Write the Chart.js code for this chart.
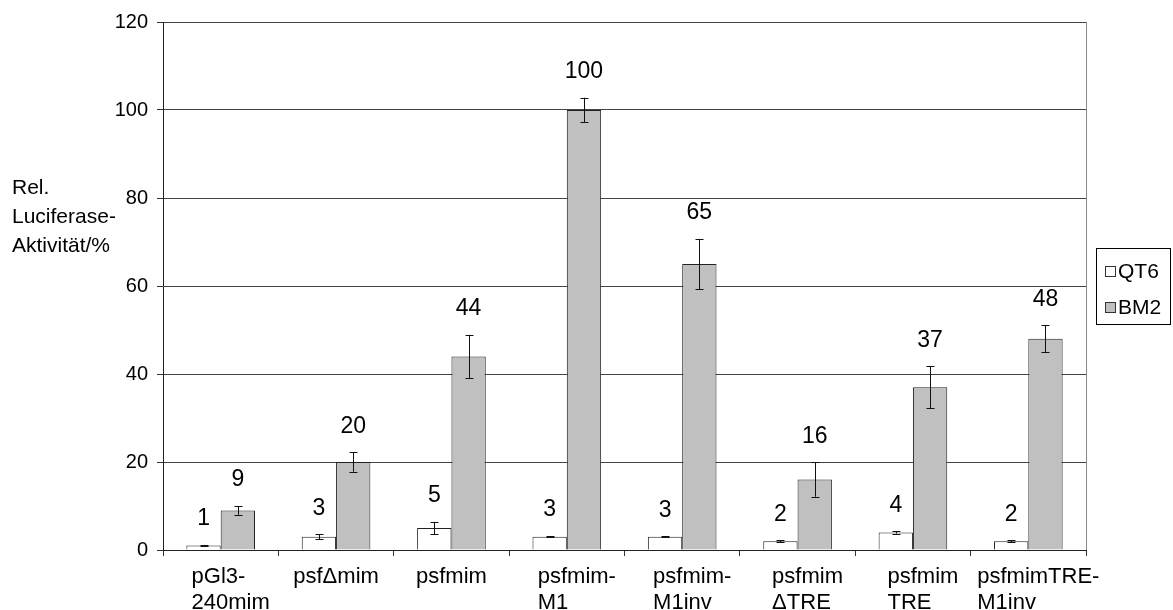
<!DOCTYPE html>
<html>
<head>
<meta charset="utf-8">
<script src="https://cdn.jsdelivr.net/npm/chart.js@4/dist/chart.umd.min.js"></script>
<style>
  html, body { margin: 0; padding: 0; background: #fff; }
  canvas { display: block; }
</style>
</head>
<body>
<canvas id="chart" width="1173" height="610"></canvas>
<script>
// Reporter constructs (category labels, one entry per text line)
const constructs = [
  ['pGl3-', '240mim'],
  ['psf\u0394mim'],
  ['psfmim'],
  ['psfmim-', 'M1'],
  ['psfmim-', 'M1inv'],
  ['psfmim', '\u0394TRE'],
  ['psfmim', 'TRE'],
  ['psfmimTRE-', 'M1inv']
];

// Relative luciferase activity (%) and standard deviations
const qt6    = [1, 3, 5, 3, 3, 2, 4, 2];
const qt6Err = [0.15, 0.6, 1.4, 0.15, 0.1, 0.2, 0.25, 0.2];
const bm2    = [9, 20, 44, 100, 65, 16, 37, 48];
const bm2Err = [1.0, 2.2, 4.9, 2.8, 5.7, 3.9, 4.75, 3.1];

const yTicks = [0, 20, 40, 60, 80, 100, 120];
const yTitle = ['Rel.', 'Luciferase-', 'Aktivit\u00e4t/%'];

const FONT = "'Liberation Sans', Arial, Helvetica, sans-serif";

const annotate = {
  id: 'annotate',
  afterDatasetsDraw(chart) {
    const ctx = chart.ctx;
    const y = chart.scales.y;
    ctx.save();
    // error bars and value labels
    chart.data.datasets.forEach((ds, di) => {
      const meta = chart.getDatasetMeta(di);
      meta.data.forEach((bar, i) => {
        const v = ds.data[i];
        const e = ds.errors[i];
        const x = Math.round(bar.x) + 0.5;
        const yt = y.getPixelForValue(v + e);
        const yb = y.getPixelForValue(v - e);
        ctx.strokeStyle = '#111';
        ctx.lineWidth = 1;
        ctx.beginPath();
        ctx.moveTo(x, yt); ctx.lineTo(x, yb);
        ctx.moveTo(x - 4, Math.round(yt) + 0.5); ctx.lineTo(x + 4, Math.round(yt) + 0.5);
        ctx.moveTo(x - 4, Math.round(yb) + 0.5); ctx.lineTo(x + 4, Math.round(yb) + 0.5);
        ctx.stroke();

        ctx.fillStyle = '#000';
        ctx.font = '23px ' + FONT;
        ctx.textAlign = 'center';
        ctx.textBaseline = 'middle';
        ctx.fillText(String(v), bar.x, yt - 26);
      });
    });
    ctx.restore();
  },
  afterDraw(chart) {
    const ctx = chart.ctx;
    const area = chart.chartArea;
    const xs = chart.scales.x;
    ctx.save();

    // right border of the plot area
    ctx.strokeStyle = '#888';
    ctx.lineWidth = 1;
    ctx.beginPath();
    ctx.moveTo(Math.round(area.right) + 0.5, area.top);
    ctx.lineTo(Math.round(area.right) + 0.5, area.bottom);
    ctx.stroke();

    // category labels: single lines centred, wrapped lines left-aligned in a block
    ctx.fillStyle = '#000';
    ctx.font = '22px ' + FONT;
    ctx.textBaseline = 'alphabetic';
    constructs.forEach((lines, i) => {
      const cx = xs.getPixelForValue(i);
      if (lines.length === 1) {
        ctx.textAlign = 'center';
        ctx.fillText(lines[0], cx, area.bottom + 33);
      } else {
        const w = Math.max(...lines.map(t => ctx.measureText(t).width));
        const left = cx - w / 2 + 10;
        ctx.textAlign = 'left';
        lines.forEach((t, k) => ctx.fillText(t, left, area.bottom + 33 + k * 26));
      }
    });

    // y-axis title
    ctx.font = '21px ' + FONT;
    ctx.textAlign = 'left';
    ctx.textBaseline = 'middle';
    yTitle.forEach((t, k) => ctx.fillText(t, 12, 188 + k * 29));

    // legend box
    const lx = 1096.5, ly = 248.5, lw = 74, lh = 76;
    ctx.strokeStyle = '#000';
    ctx.strokeRect(lx, ly, lw, lh);
    ctx.font = '21px ' + FONT;
    chart.data.datasets.forEach((ds, di) => {
      const cy = 272 + di * 36;
      ctx.fillStyle = ds.backgroundColor;
      ctx.fillRect(1105.5, cy - 5.5, 10, 10);
      ctx.strokeStyle = '#333';
      ctx.strokeRect(1105.5, cy - 5.5, 10, 10);
      ctx.fillStyle = '#000';
      ctx.fillText(ds.label, 1118, cy);
    });
    ctx.restore();
  }
};

new Chart(document.getElementById('chart'), {
  type: 'bar',
  data: {
    labels: constructs,
    datasets: [
      { label: 'QT6', data: qt6, errors: qt6Err, backgroundColor: '#ffffff',
        borderColor: '#222', borderWidth: 1 },
      { label: 'BM2', data: bm2, errors: bm2Err, backgroundColor: '#c0c0c0',
        borderColor: '#222', borderWidth: 1 }
    ]
  },
  options: {
    responsive: false,
    animation: false,
    events: [],
    layout: { padding: { top: 22, right: 87, bottom: 0, left: 0 } },
    datasets: { bar: { categoryPercentage: 0.595, barPercentage: 1.0 } },
    plugins: {
      legend: { display: false },
      title: { display: false },
      tooltip: { enabled: false }
    },
    scales: {
      x: {
        grid: { offset: true, drawOnChartArea: false, drawTicks: true, tickLength: 6, color: '#333' },
        border: { color: '#222', width: 1 },
        ticks: { color: 'rgba(0,0,0,0)', font: { size: 22, family: FONT }, maxRotation: 0, autoSkip: false },
        afterFit(scale) { scale.height = 60; }
      },
      y: {
        min: 0,
        max: 120,
        afterBuildTicks(scale) { scale.ticks = yTicks.map(v => ({ value: v })); },
        grid: { color: '#444', tickLength: 6, tickColor: '#333' },
        border: { color: '#222', width: 1 },
        ticks: { color: '#000', padding: 9, font: { size: 20, family: FONT } },
        afterFit(scale) { scale.width = 163; }
      }
    }
  },
  plugins: [annotate]
});
</script>
</body>
</html>
